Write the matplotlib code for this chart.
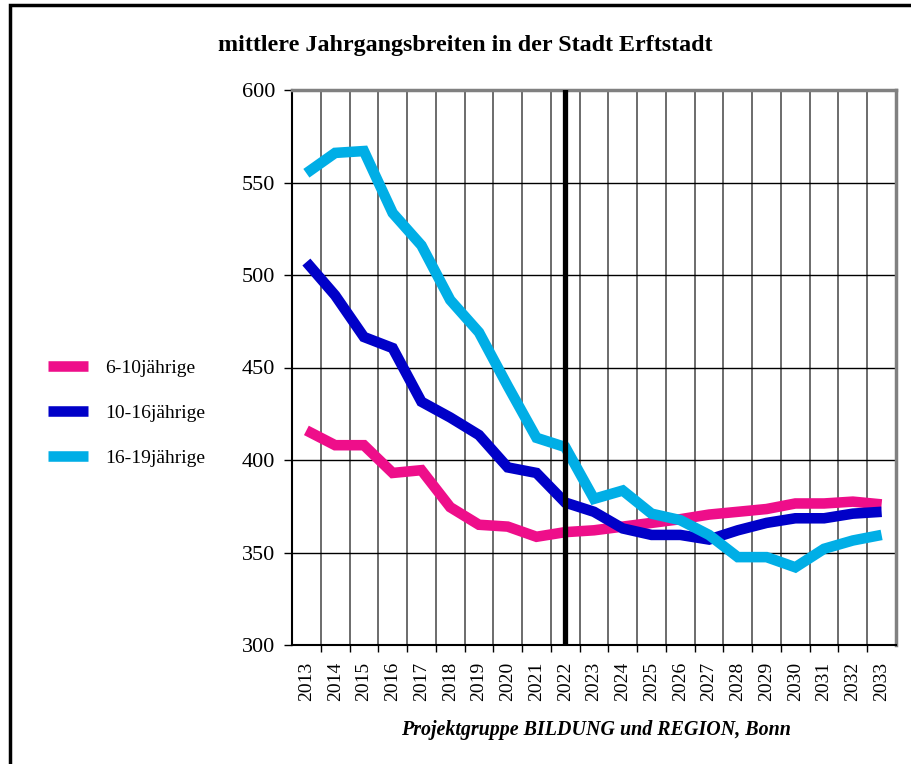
import matplotlib.pyplot as plt
from matplotlib.lines import Line2D
from matplotlib.patches import Rectangle

plt.rcParams['font.family'] = ['Liberation Serif', 'DejaVu Serif']

years = [str(y) for y in range(2013, 2034)]

# mittlere Jahrgangsbreiten
age_6_10 = [416, 408, 408, 393, 394.5, 374.5, 365, 364, 358.5, 361, 362,
            364, 366, 368, 370.5, 372, 373.5, 376.5, 376.5, 377.5, 376]
age_10_16 = [507, 489, 466.5, 460.5, 431.5, 423, 413.5, 396, 393, 377, 372,
             363, 359.5, 359.5, 357, 362, 366, 368.5, 368.5, 371, 372]
age_16_19 = [555, 566, 567, 533.5, 516, 486.5, 469, 440, 412, 407, 379,
             383.5, 371, 367.5, 359.5, 347.5, 347.5, 342, 352, 356.5, 359.5]

labels = ['6-10jährige', '10-16jährige', '16-19jährige']
colors = ['#EE0E8A', '#0000C8', '#00AEE6']
marker_year = '2022'

fig = plt.figure(figsize=(9.11, 7.64), dpi=100)

# frame round the whole chart (left and top edges visible)
fig.patches.append(Rectangle((10 / 911, -0.05), 1.2, 1 - 5 / 764 + 0.05,
                             transform=fig.transFigure, fill=False,
                             edgecolor='black', linewidth=2.5))

ax = fig.add_axes([292 / 911, 1 - 645 / 764, (896 - 292) / 911, (645 - 90) / 764])

x = list(range(len(years)))
lw = 7.6
for vals, lab, col in zip([age_6_10, age_10_16, age_16_19], labels, colors):
    ax.plot(x, vals, color=col, linewidth=lw, label=lab,
            solid_capstyle='butt', solid_joinstyle='miter', zorder=3)

ax.axvline(years.index(marker_year), color='black', linewidth=3.8, zorder=4)

ax.set_xlim(-0.5, len(years) - 0.5)
ax.set_ylim(300, 600)
ax.set_yticks(range(300, 601, 50))
ax.set_xticks(x)
ax.set_xticklabels(years, rotation=90, fontsize=14)
ax.set_xticks([i + 0.5 for i in range(len(years) - 1)], minor=True)
ax.tick_params(axis='x', which='major', length=0, pad=12)
ax.tick_params(axis='x', which='minor', length=5, direction='out', width=1)
ax.tick_params(axis='y', labelsize=16, length=6, width=1, pad=6)

ax.grid(axis='x', which='minor', color='#444444', linewidth=1.1)
ax.grid(axis='y', which='major', color='black', linewidth=1)
ax.set_axisbelow(True)

for s in ['left', 'bottom']:
    ax.spines[s].set_color('black')
    ax.spines[s].set_linewidth(1.5)
for s in ['top', 'right']:
    ax.spines[s].set_color('#808080')
    ax.spines[s].set_linewidth(2.5)

fig.text(465 / 911, 1 - 45 / 764, 'mittlere Jahrgangsbreiten in der Stadt Erftstadt',
         ha='center', va='center', fontsize=17.3, fontweight='bold')
fig.text(596 / 911, 1 - 730 / 764, 'Projektgruppe BILDUNG und REGION, Bonn',
         ha='center', va='center', fontsize=14.4, fontweight='bold', fontstyle='italic')

handles = [Line2D([], [], color=c, linewidth=lw, solid_capstyle='butt') for c in colors]
fig.legend(handles, labels, loc='upper left', bbox_to_anchor=(48 / 911, 1 - 359 / 764),
           frameon=False, fontsize=14, handlelength=2.06, handletextpad=0.88,
           labelspacing=1.42, borderpad=0, borderaxespad=0)

fig.savefig('out.png', dpi=100)
